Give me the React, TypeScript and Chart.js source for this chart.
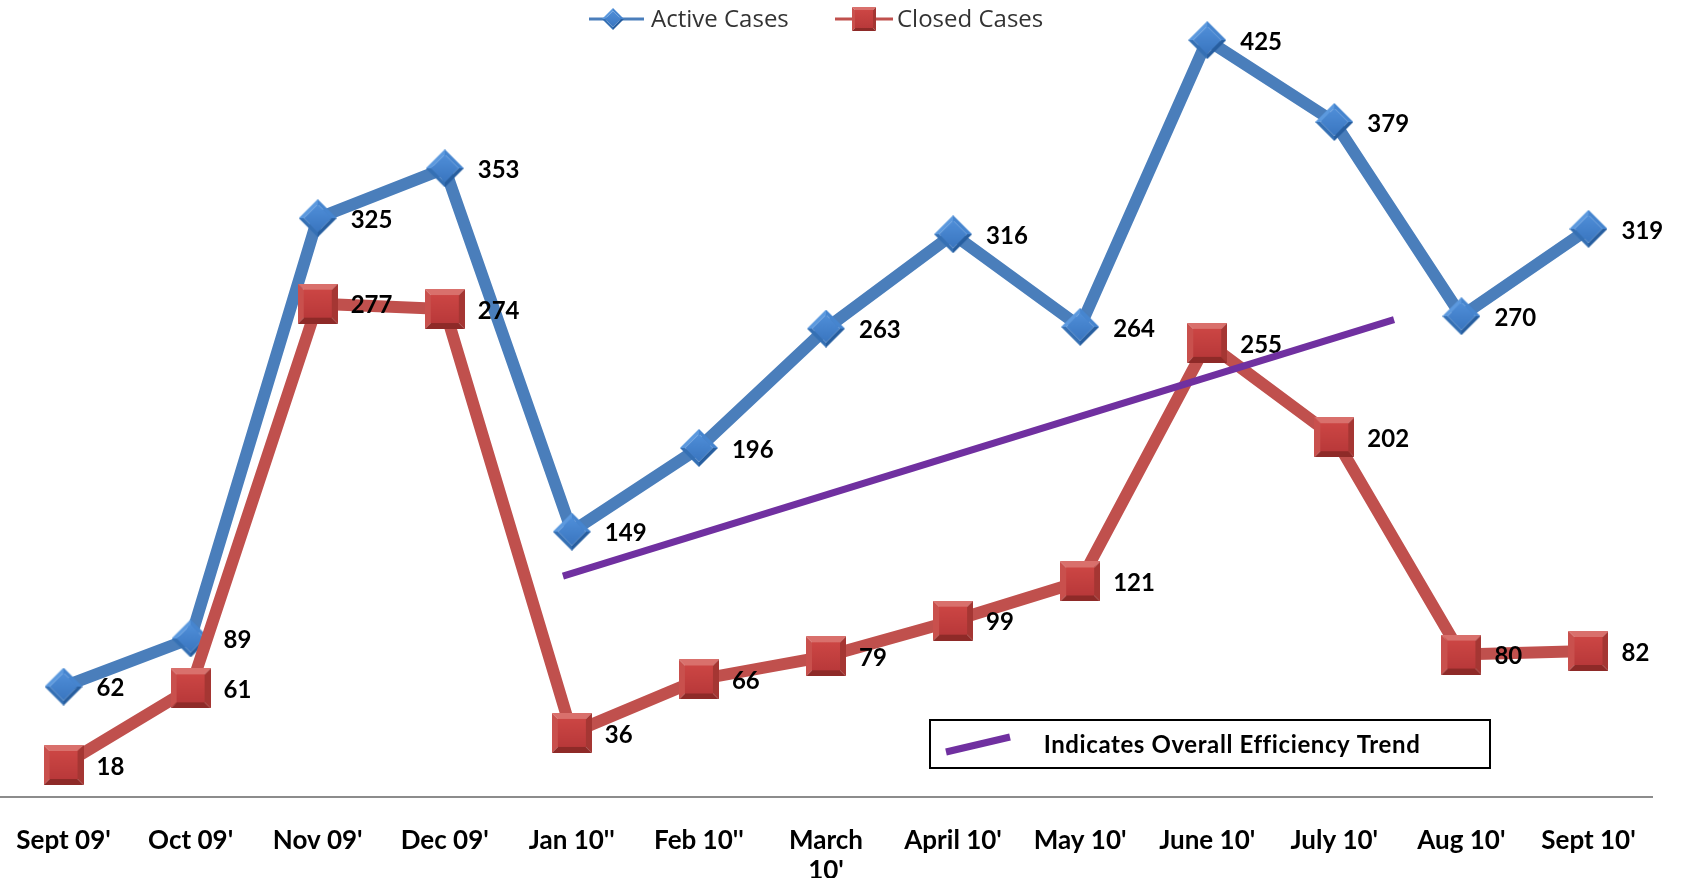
import React, { useEffect, useRef } from "react";
import { Chart, registerables } from "chart.js";

Chart.register(...registerables);

const CATEGORIES: (string | string[])[] = [
  "Sept 09'", "Oct 09'", "Nov 09'", "Dec 09'", "Jan 10''", "Feb 10''",
  ["March", "10'"], "April 10'", "May 10'", "June 10'", "July 10'", "Aug 10'", "Sept 10'",
];
const ACTIVE_CASES = [62, 89, 325, 353, 149, 196, 263, 316, 264, 425, 379, 270, 319];
const CLOSED_CASES = [18, 61, 277, 274, 36, 66, 79, 99, 121, 255, 202, 80, 82];
// trend line end points in data units (x = category index, y = value)
const TREND_X = [3.93, 10.47];
const TREND_Y = [124, 268];

const BLUE = "#4a7ebb";
const RED = "#c0504d";
const PURPLE = "#7030a0";
const LABEL_FONT = "Lato, 'DejaVu Sans', sans-serif";

function makeSquare(size: number): HTMLCanvasElement {
  const c = document.createElement("canvas");
  c.width = size;
  c.height = size;
  const g = c.getContext("2d")!;
  const b = Math.round(size * 0.14);
  const s = size;
  const poly = (pts: number[][], col: string) => {
    g.beginPath();
    g.moveTo(pts[0][0], pts[0][1]);
    for (let i = 1; i < pts.length; i++) g.lineTo(pts[i][0], pts[i][1]);
    g.closePath();
    g.fillStyle = col;
    g.fill();
  };
  poly([[0, 0], [s, 0], [s - b, b], [b, b]], "#d9706c");
  poly([[0, 0], [b, b], [b, s - b], [0, s]], "#c9504d");
  poly([[s, 0], [s, s], [s - b, s - b], [s - b, b]], "#a53633");
  poly([[0, s], [b, s - b], [s - b, s - b], [s, s]], "#8e2a28");
  const gr = g.createLinearGradient(0, b, 0, s - b);
  gr.addColorStop(0, "#cc4644");
  gr.addColorStop(1, "#b9393a");
  g.fillStyle = gr;
  g.fillRect(b, b, s - 2 * b, s - 2 * b);
  return c;
}

function makeDiamond(size: number): HTMLCanvasElement {
  const c = document.createElement("canvas");
  c.width = size;
  c.height = size;
  const g = c.getContext("2d")!;
  const h = size / 2;
  const i = size * 0.14;
  const poly = (pts: number[][], col: string | CanvasGradient) => {
    g.beginPath();
    g.moveTo(pts[0][0], pts[0][1]);
    for (let k = 1; k < pts.length; k++) g.lineTo(pts[k][0], pts[k][1]);
    g.closePath();
    g.fillStyle = col;
    g.fill();
  };
  poly([[0, h], [h, 0], [h, i], [i, h]], "#5c99de");
  poly([[h, 0], [size, h], [size - i, h], [h, i]], "#4685cf");
  poly([[size, h], [h, size], [h, size - i], [size - i, h]], "#275e9f");
  poly([[h, size], [0, h], [i, h], [h, size - i]], "#3570b4");
  const gr = g.createLinearGradient(0, i, 0, size - i);
  gr.addColorStop(0, "#4f8ed8");
  gr.addColorStop(1, "#3a76c0");
  poly([[i, h], [h, i], [size - i, h], [h, size - i]], gr);
  return c;
}

export default function App() {
  const ref = useRef<HTMLCanvasElement | null>(null);

  useEffect(() => {
    if (!ref.current) return;
    const square = makeSquare(40);
    const diamond = makeDiamond(38);
    const squareSmall = makeSquare(24);
    const diamondSmall = makeDiamond(22);

    const overlay = {
      id: "overlay",
      afterDatasetsDraw(chart: any) {
        const ctx = chart.ctx as CanvasRenderingContext2D;
        const xs = chart.scales.x;
        const ys = chart.scales.y;
        ctx.save();
        // data labels
        ctx.fillStyle = "#000";
        ctx.font = `bold 24px ${LABEL_FONT}`;
        ctx.textAlign = "left";
        ctx.textBaseline = "middle";
        [0, 1].forEach((di) => {
          const meta = chart.getDatasetMeta(di);
          const data = chart.data.datasets[di].data as number[];
          meta.data.forEach((pt: any, idx: number) => {
            ctx.fillText(String(data[idx]), pt.x + 33, pt.y + 2);
          });
        });
        // trend line
        ctx.strokeStyle = PURPLE;
        ctx.lineWidth = 7;
        ctx.lineCap = "butt";
        ctx.beginPath();
        ctx.moveTo(xs.getPixelForValue(TREND_X[0]), ys.getPixelForValue(TREND_Y[0]));
        ctx.lineTo(xs.getPixelForValue(TREND_X[1]), ys.getPixelForValue(TREND_Y[1]));
        ctx.stroke();

        // annotation box
        ctx.fillStyle = "#fff";
        ctx.fillRect(930, 720, 560, 48);
        ctx.strokeStyle = "#000";
        ctx.lineWidth = 2;
        ctx.strokeRect(930, 720, 560, 48);
        ctx.strokeStyle = PURPLE;
        ctx.lineWidth = 7;
        ctx.beginPath();
        ctx.moveTo(946, 752);
        ctx.lineTo(1010, 737);
        ctx.stroke();
        ctx.fillStyle = "#000";
        ctx.font = `bold 24px ${LABEL_FONT}`;
        (ctx as any).letterSpacing = "0.6px";
        ctx.textAlign = "center";
        ctx.fillText("Indicates Overall Efficiency Trend", 1232, 745);
        (ctx as any).letterSpacing = "0px";

        // legend
        const ly = 19;
        ctx.font = `24px 'Open Sans', 'Noto Sans', sans-serif`;
        ctx.textAlign = "left";
        ctx.fillStyle = "#333";
        ctx.lineWidth = 3;
        ctx.strokeStyle = BLUE;
        ctx.beginPath();
        ctx.moveTo(589, ly);
        ctx.lineTo(644, ly);
        ctx.stroke();
        ctx.drawImage(diamondSmall, 613 - 11, ly - 11);
        ctx.fillText("Active Cases", 651, ly + 1);
        ctx.strokeStyle = RED;
        ctx.beginPath();
        ctx.moveTo(835, ly);
        ctx.lineTo(893, ly);
        ctx.stroke();
        ctx.drawImage(squareSmall, 864 - 12, ly - 12);
        ctx.fillText("Closed Cases", 897, ly + 1);
        ctx.restore();
      },
    };

    const chart = new Chart(ref.current, {
      type: "line",
      data: {
        labels: CATEGORIES,
        datasets: [
          {
            label: "Active Cases",
            data: ACTIVE_CASES,
            borderColor: BLUE,
            borderWidth: 12,
            pointStyle: diamond as any,
            pointRadius: 19,
            pointHoverRadius: 19,
            tension: 0,
            order: 1,
            clip: false as any,
          },
          {
            label: "Closed Cases",
            data: CLOSED_CASES,
            borderColor: RED,
            borderWidth: 12,
            pointStyle: square as any,
            pointRadius: 20,
            pointHoverRadius: 20,
            tension: 0,
            order: 0,
            clip: false as any,
          },
        ],
      },
      options: {
        animation: false,
        responsive: false,
        maintainAspectRatio: false,
        events: [],
        layout: { autoPadding: false, padding: { left: 0, right: 32, top: 0, bottom: 0 } },
        plugins: {
          legend: { display: false },
          tooltip: { enabled: false },
        },
        scales: {
          x: {
            offset: true,
            grid: { display: false, drawTicks: false },
            border: { display: true, color: "#8c8c8c", width: 2 },
            ticks: {
              color: "#000",
              padding: 29,
              maxRotation: 0,
              autoSkip: false,
              font: { family: LABEL_FONT, size: 26, weight: "bold", lineHeight: 1.14 },
            },
            afterFit(scale: any) {
              scale.height = 81;
              scale.paddingLeft = 0;
              scale.paddingRight = 0;
            },
          },
          y: {
            display: false,
            min: 0,
            max: 447.5,
          },
        },
      },
      plugins: [overlay],
    });
    return () => chart.destroy();
  }, []);

  return (
    <div style={{ position: "fixed", left: 0, top: 0, width: 1684, height: 878, background: "#fff" }}>
      <canvas ref={ref} width={1684} height={878} style={{ display: "block", width: 1684, height: 878 }} />
    </div>
  );
}
